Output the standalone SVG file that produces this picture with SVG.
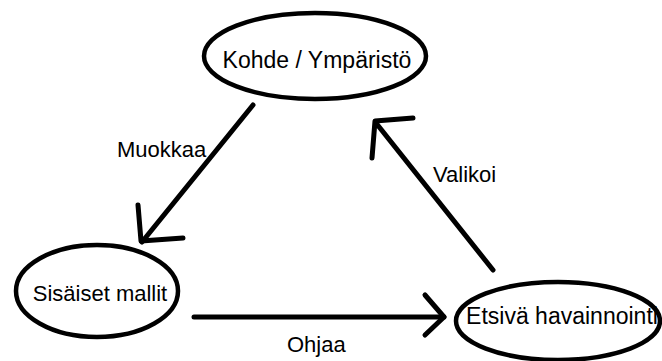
<svg xmlns="http://www.w3.org/2000/svg" width="662" height="361" viewBox="0 0 662 361">
<style>
.node ellipse{fill:#fff;stroke:#000;stroke-width:4.5}
text{font-family:"Liberation Sans",Arial,sans-serif;font-size:22px;fill:#000}
.big{font-size:23px}
.conn path{fill:none;stroke:#000;stroke-width:5;stroke-linecap:round;stroke-linejoin:round}
</style>
<rect width="662" height="361" fill="#fff"/>
<g id="kohde" class="node">
<ellipse cx="315" cy="56" rx="111" ry="43"/>
<text class="big" x="317" y="68" text-anchor="middle">Kohde / Ympäristö</text>
</g>
<g id="sisaiset" class="node">
<ellipse cx="97" cy="291" rx="81" ry="46"/>
<text x="100" y="301" text-anchor="middle">Sisäiset mallit</text>
</g>
<g id="etsiva" class="node">
<ellipse cx="558" cy="321" rx="102" ry="39"/>
<text class="big" x="562" y="324" text-anchor="middle">Etsivä havainnointi</text>
</g>
<g id="connectors" class="conn">
<path d="M253 105 L142 242"/>
<path d="M138 205 L141 241 L183 238"/>
<path d="M493 270 L376 123"/>
<path d="M372 158 L375 121 L413 118"/>
<path d="M194 317 L444 317"/>
<path d="M425 295 L444 317 L425 335"/>
<text x="117" y="157">Muokkaa</text>
<text x="433" y="182">Valikoi</text>
<text x="287" y="352">Ohjaa</text>
</g>
</svg>
